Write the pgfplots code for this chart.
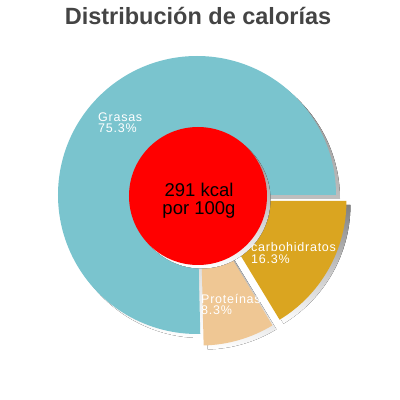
\documentclass[border=0pt]{standalone}
\usepackage{pgfplots}
\pgfplotsset{compat=1.18}
\usepackage{fontspec}
\setmainfont{Liberation Sans}

\definecolor{grasas}{RGB}{122,196,206}
\definecolor{prot}{RGB}{239,199,148}
\definecolor{carbo}{RGB}{218,165,32}
\definecolor{shade}{RGB}{100,100,100}
\definecolor{titlegray}{RGB}{68,68,68}

% pie centre (axis units = px, y up), radius, explode distance
\def\cx{197}\def\cy{205}\def\rad{139}
% #1 start pct, #2 end pct, #3 explode, #4 colour
\newcommand\pieshadow[3]{%
  \fill[shade, shift={({(#1+#2)*1.8/0.999}:#3bp)}, xshift=4bp, yshift=-4bp]
    (axis cs:\cx,\cy) -- ++({#1*3.6/0.999}:\rad bp)
    arc[start angle={#1*3.6/0.999}, end angle={#2*3.6/0.999}, radius=\rad bp] -- cycle;}
\newcommand\pieslice[4]{%
  \fill[#4, shift={({(#1+#2)*1.8/0.999}:#3bp)}]
    (axis cs:\cx,\cy) -- ++({#1*3.6/0.999}:\rad bp)
    arc[start angle={#1*3.6/0.999}, end angle={#2*3.6/0.999}, radius=\rad bp] -- cycle;}
\newcommand\lab{\fontsize{12.5bp}{12.5bp}\selectfont\addfontfeature{LetterSpace=6}\color{white}}

\begin{document}
\begin{tikzpicture}
\begin{axis}[
  at={(0,0)}, anchor=south west,
  scale only axis, width=400bp, height=400bp,
  xmin=0, xmax=400, ymin=0, ymax=400,
  hide axis, clip=false,
]
% Grasas 75.3, Proteinas 8.3, Carbohidratos 16.3
\pieshadow{0}{75.3}{0}
\pieshadow{75.3}{83.6}{12}
\pieshadow{83.6}{99.9}{12}
\pieslice{0}{75.3}{0}{grasas}
\pieslice{75.3}{83.6}{12}{prot}
\pieslice{83.6}{99.9}{12}{carbo}

% centre disc
\fill[shade] (axis cs:201.5,200.5) circle[radius=69bp];
\fill[red] (axis cs:198,204) circle[radius=69bp];

\node[anchor=base, inner sep=0pt, font=\fontsize{18.5bp}{18.5bp}\selectfont]
  at (axis cs:199,203.3) {291 kcal};
\node[anchor=base, inner sep=0pt, font=\fontsize{18.5bp}{18.5bp}\selectfont]
  at (axis cs:199,185) {por 100g};

\node[anchor=base west, inner sep=0pt, font=\lab] at (axis cs:98,278.8) {Grasas};
\node[anchor=base west, inner sep=0pt, font=\lab] at (axis cs:98,267.2) {75.3\%};
\node[anchor=base west, inner sep=0pt, font=\lab] at (axis cs:251,148.2) {carbohidratos};
\node[anchor=base west, inner sep=0pt, font=\lab] at (axis cs:251,136.5) {16.3\%};
\node[anchor=base west, inner sep=0pt, font=\lab] at (axis cs:201,96.8) {Proteínas};
\node[anchor=base west, inner sep=0pt, font=\lab] at (axis cs:201,85) {8.3\%};

\node[anchor=base, inner sep=0pt, text=titlegray,
  font=\fontsize{23.5bp}{23.5bp}\selectfont\bfseries] at (axis cs:198,375) {Distribución de calorías};
\end{axis}
\pgfresetboundingbox
\path (0,0) rectangle (400bp,400bp);
\end{tikzpicture}
\end{document}
